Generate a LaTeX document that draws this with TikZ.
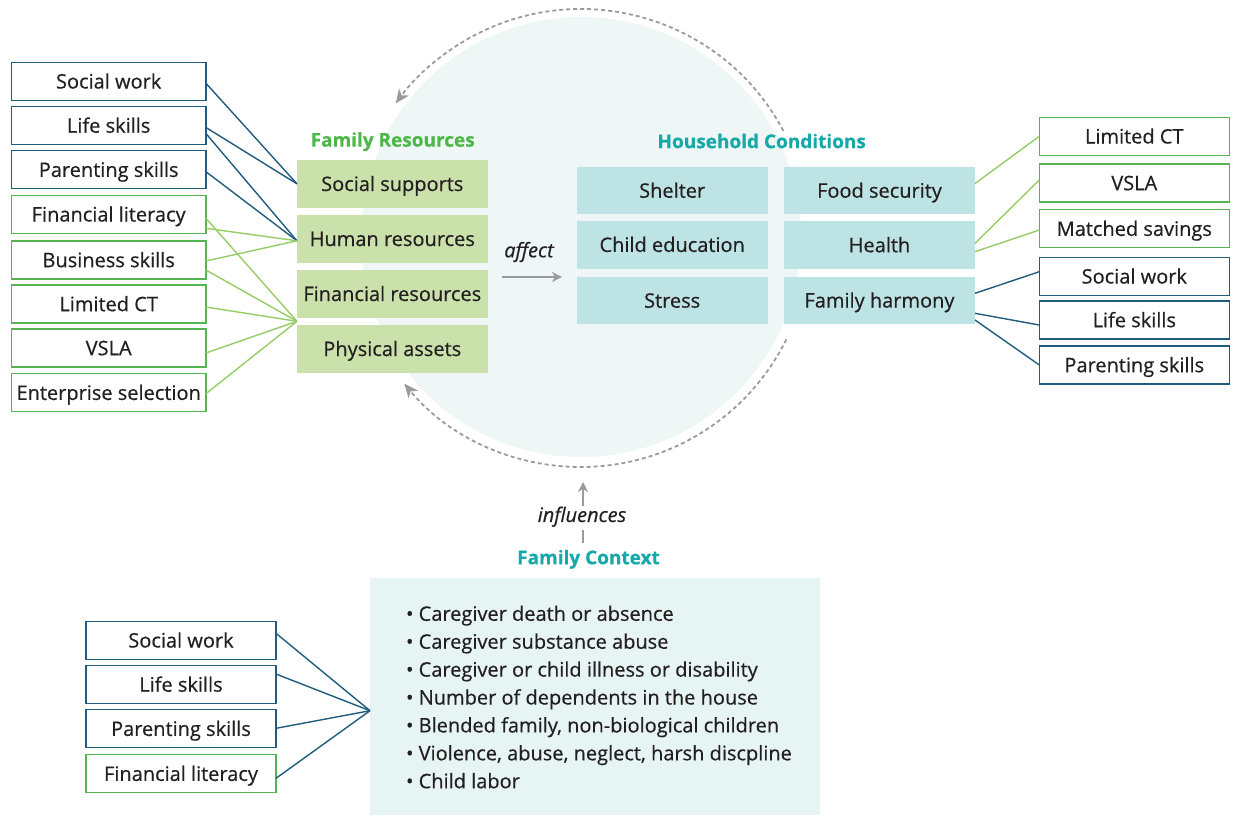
\documentclass[tikz,border=0pt]{standalone}
\usepackage{fontspec}
\setmainfont{Open Sans}[FakeBold=0.45]
\usetikzlibrary{arrows.meta,calc}
\definecolor{dblue}{HTML}{1F5C7E}
\definecolor{gborder}{HTML}{55B553}
\definecolor{gline}{HTML}{96CC66}
\definecolor{tgreen}{HTML}{4DB848}
\definecolor{tteal}{HTML}{17A9A9}
\definecolor{resfill}{HTML}{CAE1AB}
\definecolor{hcfill}{HTML}{BDE3E4}
\definecolor{circfill}{HTML}{EEF7F6}
\definecolor{ctxfill}{HTML}{E6F4F3}
\definecolor{txt}{HTML}{231F20}
\definecolor{arrgray}{HTML}{9B9B9B}
\begin{document}
\begin{tikzpicture}[x=1pt,y=-1pt,inner sep=0pt,outer sep=0pt,
  font=\fontsize{20}{24}\selectfont, text=txt,
  tx/.style={text height=19pt, text depth=4.6pt},
  obox/.style={tx, draw=#1, line width=1.5pt, fill=white, minimum width=194.5pt, minimum height=38pt},
  sbox/.style={tx, draw=#1, line width=1.5pt, fill=white, minimum width=190pt, minimum height=38pt},
  resbox/.style={tx, fill=resfill, minimum width=190.7pt, minimum height=47.7pt},
  hcbox/.style={tx, fill=hcfill, minimum width=191pt, minimum height=47.6pt},
  ttl/.style={font=\fontsize{19}{22}\selectfont\bfseries, text=#1},
  bl/.style={draw=dblue, line width=1.4pt},
  gl/.style={draw=gline, line width=1.4pt},
  dashcirc/.style={draw=arrgray, line width=1.8pt, dash pattern=on 4pt off 3pt, -{Stealth[length=14pt,width=12pt,inset=4pt]}},
  garrow/.style={draw=arrgray, line width=1.6pt, -{Stealth[length=10pt,width=10pt,inset=3pt]}}
]
\useasboundingbox (0,0) rectangle (1233,815);

% background circle
\coordinate (cc) at (581,238);
\fill[circfill] (581,237) circle[radius=220pt];
\draw[dashcirc] ($(cc)+(27.9:229pt)$) arc[start angle=27.9, end angle=144, radius=229pt];
\draw[dashcirc] ($(cc)+(-26.3:229pt)$) arc[start angle=-26.3, end angle=-140.5, radius=229pt];

% left intervention boxes
\node[obox=dblue] (lsw) at (108.7,81.3) {Social work};
\node[obox=dblue] (lls) at (108.7,125.5) {Life skills};
\node[obox=dblue] (lps) at (108.7,169.7) {Parenting skills};
\node[obox=gborder] (lfl) at (108.7,214.3) {Financial literacy};
\node[obox=gborder] (lbs) at (108.7,260) {Business skills};
\node[obox=gborder] (llc) at (108.7,304) {Limited CT};
\node[obox=gborder] (lvs) at (108.7,348) {VSLA};
\node[obox=gborder] (les) at (108.7,392.7) {Enterprise selection};

% family resources
\node[ttl=tgreen] (frt) at (392.7,141.7) {Family Resources};
\node[resbox] (ss) at (392.3,183.8) {Social supports};
\node[resbox] (hr) at (392.3,238.8) {Human resources};
\node[resbox] (fr) at (392.3,293.8) {Financial resources};
\node[resbox] (pa) at (392.3,348.8) {Physical assets};
\coordinate (jr) at ($(fr.south west)!0.5!(pa.north west)$);

% connectors left
\draw[bl] ([yshift=-2pt]lsw.east) -- (ss.west);
\draw[bl] ([yshift=-2pt]lls.east) -- (ss.west);
\draw[bl] ([yshift=-8pt]lls.east) -- ([yshift=-2pt]hr.west);
\draw[bl] ([yshift=-2pt]lps.east) -- ([yshift=-2pt]hr.west);
\draw[gl] ([yshift=-4pt]lfl.east) -- (jr);
\draw[gl] ([yshift=-14pt]lfl.east) -- ([yshift=-2pt]hr.west);
\draw[gl] ([yshift=-1pt]lbs.east) -- ([yshift=-2pt]hr.west);
\draw[gl] ([yshift=-10pt]lbs.east) -- (jr);
\draw[gl] ([yshift=-3pt]llc.east) -- (jr);
\draw[gl] ([yshift=-5pt]lvs.east) -- (jr);
\draw[gl] ([yshift=-1pt]les.east) -- (jr);

% affect
\node[font=\fontsize{20}{24}\selectfont\itshape] (aff) at (529,252) {affect};
\coordinate (a1) at (502,277);
\coordinate (a2) at (562,277);
\draw[garrow] (a1) -- (a2);

% household conditions
\node[ttl=tteal] (hct) at (761.7,141) {Household Conditions};
\node[hcbox] (sh) at (672.2,190.5) {Shelter};
\node[hcbox] (ce) at (672.2,244.7) {Child education};
\node[hcbox] (st) at (672.2,300.5) {Stress};
\node[hcbox] (fs) at (879.5,190.5) {Food security};
\node[hcbox] (he) at (879.5,245) {Health};
\node[hcbox] (fh) at (879.5,300.3) {Family harmony};

% right intervention boxes
\node[sbox=gborder] (rlc) at (1134.3,136.3) {Limited CT};
\node[sbox=gborder] (rvs) at (1134.3,183) {VSLA};
\node[sbox=gborder] (rms) at (1134.3,228.7) {Matched savings};
\node[sbox=dblue] (rsw) at (1134.3,276.3) {Social work};
\node[sbox=dblue] (rls) at (1134.3,320) {Life skills};
\node[sbox=dblue] (rps) at (1134.3,365) {Parenting skills};

\draw[gl] (rlc.west) -- ([yshift=7pt]fs.east);
\draw[gl] ([yshift=3pt]rvs.west) -- ([yshift=1.7pt]he.east);
\draw[gl] ([yshift=-1.3pt]rms.west) -- ([yshift=-6.7pt]he.east);
\draw[bl] ([yshift=4.6pt]rsw.west) -- ([yshift=7pt]fh.east);
\draw[bl] ([yshift=-5pt]rls.west) -- ([yshift=-13pt]fh.east);
\draw[bl] (rps.west) -- ([yshift=-19.7pt]fh.east);

% influences
\coordinate (i1) at (583,506);
\coordinate (i2) at (583,482);
\draw[garrow] (i1) -- (i2);
\node[font=\fontsize{20}{24}\selectfont\itshape] (inf) at (582,516.7) {influences};
\coordinate (i3) at (583,529.5);
\coordinate (i4) at (583,543);
\draw[draw=arrgray, line width=1.6pt] (i3) -- (i4);

% family context
\node[ttl=tteal] (fct) at (588.5,559.3) {Family Context};
\node[fill=ctxfill, minimum width=450pt, minimum height=237.5pt] (ctx) at (595,696.5) {};
\node[anchor=west, align=left, font=\fontsize{20}{27.9}\selectfont] (ctxt) at (406,697)
 {• Caregiver death or absence\\
  • Caregiver substance abuse\\
  • Caregiver or child illness or disability\\
  • Number of dependents in the house\\
  • Blended family, non-biological children\\
  • Violence, abuse, neglect, harsh discpline\\
  • Child labor};
\coordinate (jc) at (370,710.7);

% bottom-left boxes
\node[sbox=dblue] (bsw) at (181,640.3) {Social work};
\node[sbox=dblue] (bls) at (181,684.5) {Life skills};
\node[sbox=dblue] (bps) at (181,728.7) {Parenting skills};
\node[sbox=gborder] (bfl) at (181,773.7) {Financial literacy};

\draw[bl] ([yshift=7pt]bsw.east) -- (jc);
\draw[bl] ([yshift=10.5pt]bls.east) -- (jc);
\draw[bl] ([yshift=0.4pt]bps.east) -- (jc);
\draw[bl] ([yshift=-4.6pt]bfl.east) -- (jc);
\end{tikzpicture}
\end{document}
